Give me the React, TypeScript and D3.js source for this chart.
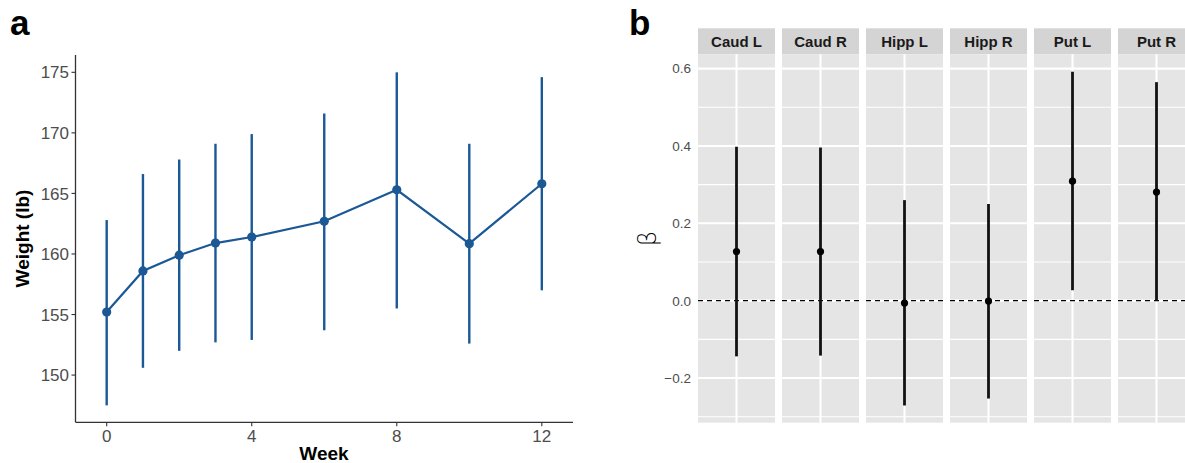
import React from "react";
import * as d3 from "d3";

// panel a: body weight by week
const weeks = [0, 1, 2, 3, 4, 6, 8, 10, 12];
const weightMean = [155.2, 158.6, 159.9, 160.9, 161.4, 162.7, 165.3, 160.85, 165.8];
const weightLow = [147.5, 150.6, 152.0, 152.7, 152.9, 153.7, 155.5, 152.6, 157.0];
const weightHigh = [162.8, 166.6, 167.8, 169.1, 169.9, 171.6, 175.0, 169.1, 174.6];
const weekTicks = [0, 4, 8, 12];
const weightTicks = [150, 155, 160, 165, 170, 175];

// panel b: beta per region
const regions = ["Caud L", "Caud R", "Hipp L", "Hipp R", "Put L", "Put R"];
const betaEst = [0.127, 0.127, -0.006, -0.001, 0.309, 0.281];
const betaLow = [-0.144, -0.142, -0.271, -0.253, 0.027, 0.0];
const betaHigh = [0.398, 0.396, 0.26, 0.25, 0.592, 0.565];
const betaTicks = [-0.2, 0, 0.2, 0.4, 0.6];
const betaMinor = [-0.3, -0.1, 0.1, 0.3, 0.5];

const font = "'Liberation Sans', Arial, sans-serif";
const blue = "#1a5896";

export default function App() {
  const W = 1185;
  const H = 463;

  // panel a scales
  const xA = d3.scaleLinear().domain([-0.86, 12.86]).range([75.5, 573]);
  const yA = d3.scaleLinear().domain([146.1, 176.43]).range([422.3, 55]);
  const line = d3
    .line<number>()
    .x((d, i) => xA(weeks[i]))
    .y((d) => yA(d));

  // panel b scales
  const band = d3
    .scaleBand<string>()
    .domain(regions)
    .range([698, 698 + 6 * 84 - 7])
    .paddingInner(7 / 84)
    .paddingOuter(0);
  const yB = d3.scaleLinear().domain([-0.3155, 0.637]).range([422.7, 54.3]);
  const stripTop = 28.3;
  const stripBottom = 54.3;

  return (
    <svg
      width={W}
      height={H}
      style={{ position: "absolute", left: 0, top: 0, background: "#fff" }}
      fontFamily={font}
    >
      {/* ---------- panel a ---------- */}
      <text x={10} y={35} fontSize={35} fontWeight="bold" fill="#000">
        a
      </text>
      <line x1={75.5} x2={75.5} y1={55} y2={422.3} stroke="#333" strokeWidth={1.3} />
      <line x1={75.5} x2={573} y1={422.3} y2={422.3} stroke="#333" strokeWidth={1.3} />
      {weightTicks.map((t) => (
        <g key={t}>
          <line x1={71.5} x2={75.5} y1={yA(t)} y2={yA(t)} stroke="#333" strokeWidth={1.1} />
          <text x={69} y={yA(t)} dy="0.36em" textAnchor="end" fontSize={17} fill="#4d4d4d">
            {t}
          </text>
        </g>
      ))}
      {weekTicks.map((t) => (
        <g key={t}>
          <line x1={xA(t)} x2={xA(t)} y1={422.3} y2={426.3} stroke="#333" strokeWidth={1.1} />
          <text x={xA(t)} y={441.5} textAnchor="middle" fontSize={17} fill="#4d4d4d">
            {t}
          </text>
        </g>
      ))}
      <text x={324} y={460} textAnchor="middle" fontSize={19} fontWeight="bold" fill="#000">
        Week
      </text>
      <text
        transform={`translate(29,238.5) rotate(-90)`}
        textAnchor="middle"
        fontSize={19}
        fontWeight="bold"
        fill="#000"
      >
        Weight (lb)
      </text>
      {weeks.map((w, i) => (
        <line
          key={"e" + w}
          x1={xA(w)}
          x2={xA(w)}
          y1={yA(weightLow[i])}
          y2={yA(weightHigh[i])}
          stroke={blue}
          strokeWidth={2.4}
        />
      ))}
      <path d={line(weightMean) ?? ""} fill="none" stroke={blue} strokeWidth={2.2} />
      {weeks.map((w, i) => (
        <circle key={"p" + w} cx={xA(w)} cy={yA(weightMean[i])} r={4.6} fill={blue} />
      ))}

      {/* ---------- panel b ---------- */}
      <text x={629} y={35} fontSize={35} fontWeight="bold" fill="#000">
        b
      </text>
      {betaTicks.map((t) => (
        <text
          key={t}
          x={691}
          y={yB(t)}
          dy="0.36em"
          textAnchor="end"
          fontSize={13.5}
          fill="#4d4d4d"
        >
          {t < 0 ? "\u2212" + Math.abs(t).toFixed(1) : t.toFixed(1)}
        </text>
      ))}
      <text
        transform={`translate(656,238.5) rotate(-90)`}
        textAnchor="middle"
        fontSize={25}
        fontFamily="'DejaVu Sans', sans-serif"
        fontWeight={300}
        fill="#000"
      >
        β
      </text>
      {regions.map((r, i) => {
        const x0 = band(r) as number;
        const bw = band.bandwidth();
        const cx = x0 + bw / 2;
        return (
          <g key={r}>
            <rect x={x0} y={stripTop} width={bw} height={stripBottom - stripTop} fill="#d4d4d4" />
            <text
              x={cx}
              y={(stripTop + stripBottom) / 2}
              dy="0.36em"
              textAnchor="middle"
              fontSize={15}
              fontWeight="bold"
              fill="#1a1a1a"
            >
              {r}
            </text>
            <rect x={x0} y={stripBottom} width={bw} height={422.7 - stripBottom} fill="#e5e5e5" />
            {betaMinor.map((t) => (
              <line key={"m" + t} x1={x0} x2={x0 + bw} y1={yB(t)} y2={yB(t)} stroke="#fff" strokeWidth={1.1} />
            ))}
            {betaTicks.map((t) => (
              <line key={"M" + t} x1={x0} x2={x0 + bw} y1={yB(t)} y2={yB(t)} stroke="#fff" strokeWidth={2.1} />
            ))}
            <line x1={cx} x2={cx} y1={stripBottom} y2={422.7} stroke="#fff" strokeWidth={2.1} />
            <line
              x1={x0}
              x2={x0 + bw}
              y1={yB(0)}
              y2={yB(0)}
              stroke="#000"
              strokeWidth={1.2}
              strokeDasharray="5,4"
            />
            <line
              x1={cx}
              x2={cx}
              y1={yB(betaLow[i])}
              y2={yB(betaHigh[i])}
              stroke="#111"
              strokeWidth={2.8}
            />
            <circle cx={cx} cy={yB(betaEst[i])} r={3.6} fill="#000" />
          </g>
        );
      })}
    </svg>
  );
}
